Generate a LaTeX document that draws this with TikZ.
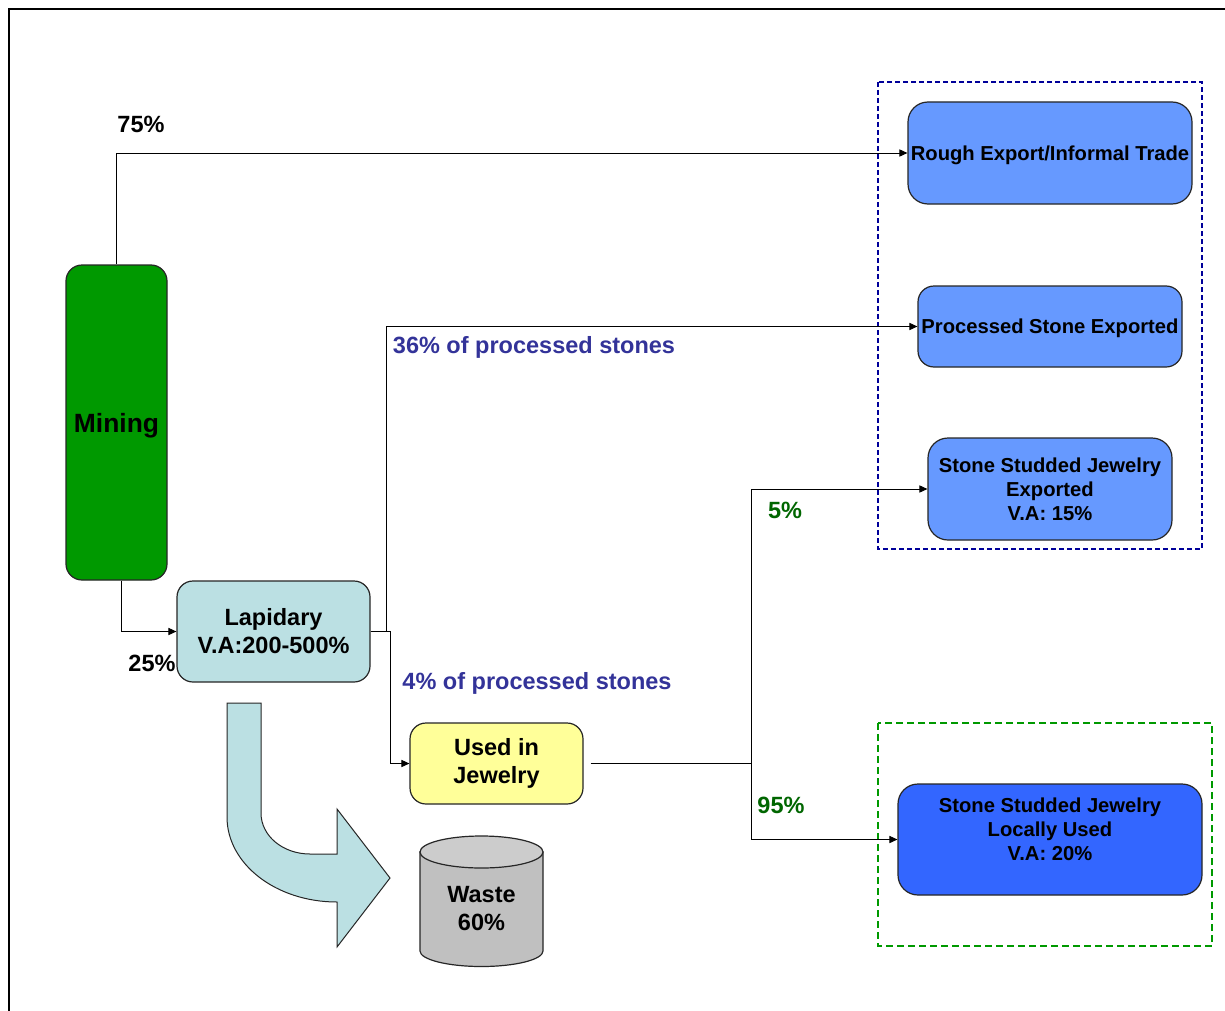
\documentclass[tikz,border=0pt]{standalone}
\usepackage{fontspec}
\setmainfont{Liberation Sans}
\usetikzlibrary{arrows.meta}
\definecolor{minegreen}{RGB}{0,153,0}
\definecolor{lapblue}{RGB}{187,224,227}
\definecolor{jewyellow}{RGB}{255,255,153}
\definecolor{lightblue}{RGB}{102,153,255}
\definecolor{darkblue}{RGB}{51,102,255}
\definecolor{wastegray}{RGB}{192,192,192}
\definecolor{wastetop}{RGB}{204,204,204}
\definecolor{labblue}{RGB}{51,51,153}
\definecolor{labgreen}{RGB}{0,102,0}
\definecolor{framenavy}{RGB}{0,0,153}
\definecolor{framegreen}{RGB}{0,153,0}
\tikzset{
  boxstyle/.style={draw=black!85, line width=0.6pt, rounded corners=8pt, inner sep=0pt, align=center, font=\fontsize{11.75}{14}\selectfont\bfseries},
  smalltext/.style={font=\fontsize{10.1}{12}\selectfont\bfseries},
  conn/.style={line width=0.5pt, draw=black},
  tip/.style={-{Triangle[length=4pt,width=3.6pt]}},
  pct/.style={inner sep=0pt, font=\fontsize{11.75}{14}\selectfont\bfseries},
}
\begin{document}
\begin{tikzpicture}[x=0.5pt,y=-0.5pt]
\useasboundingbox (0,0) rectangle (1225,1011);
\fill[white] (0,0) rectangle (1225,1011);
% outer frame
\draw[line width=1pt] (9,1011) -- (9,9) -- (1225,9);
% dashed frames
\draw[framenavy, line width=0.6pt, dash pattern=on 2.5pt off 1.5pt] (878,82) rectangle (1202,549);
\draw[framegreen, line width=0.6pt, dash pattern=on 3.5pt off 2pt] (878,723) rectangle (1212,946);
% nodes
\node[boxstyle, fill=minegreen, minimum width=50.5pt, minimum height=157.5pt, text depth=0pt, font=\fontsize{13.2}{15}\selectfont\bfseries] (mining) at (116.5,422.5) {Mining};
\node[boxstyle, fill=lapblue, minimum width=96.5pt, minimum height=50.5pt] (lapidary) at (273.5,631.5) {Lapidary\\V.A:200-500\%};
\node[boxstyle, fill=jewyellow, minimum width=86.5pt, minimum height=40.5pt] (used) at (496.5,763.5) {Used in\\ Jewelry};
\node[boxstyle, smalltext, fill=lightblue, minimum width=142pt, minimum height=51pt, rounded corners=10pt, text depth=0pt] (rough) at (1050,153) {Rough Export/Informal Trade};
\node[boxstyle, smalltext, fill=lightblue, minimum width=132pt, minimum height=40.5pt, text depth=0pt] (processed) at (1050,326.5) {Processed Stone Exported};
\node[boxstyle, smalltext, fill=lightblue, minimum width=122pt, minimum height=51pt, rounded corners=10pt] (exported) at (1050,489) {Stone Studded Jewelry\\Exported\\V.A: 15\%};
\node[boxstyle, fill=darkblue, minimum width=152pt, minimum height=55.5pt, rounded corners=10pt] (local) at (1050,839.5) {};
\node[smalltext, align=center, inner sep=0pt] (localtext) at (1050,829) {Stone Studded Jewelry\\Locally Used\\V.A: 20\%};
% curved arrow to waste
\draw[fill=lapblue, line width=0.5pt, draw=black!85] (227,703) -- (227,817)
  .. controls (227,864) and (276,902) .. (337,902) -- (337,947) -- (390,878) -- (337,809) -- (337,854) -- (310,854)
  .. controls (283,854) and (261,836) .. (261,813) -- (261,703) -- cycle;
% waste cylinder
\draw[fill=wastegray, line width=0.6pt, draw=black!85] (420,852) -- (420,951) arc[start angle=180, end angle=0, x radius=61.5, y radius=15.5] -- (543,852) -- cycle;
\draw[fill=wastetop, line width=0.6pt, draw=black!85] (481.5,852) ellipse[x radius=61.5, y radius=16];
\node[align=center, inner sep=0pt, font=\fontsize{11.75}{14}\selectfont\bfseries] (waste) at (481.5,909) {Waste\\60\%};
% connectors
\draw[conn, tip] (mining.north) |- (rough.west);
\draw[conn, tip] ([xshift=2.5pt]mining.south) |- (lapidary.west);
\draw[conn, tip] (lapidary.east) -- ++(8pt,0) |- (processed.west);
\draw[conn, tip] (lapidary.east) -- ++(10pt,0) |- (used.west);
\coordinate (junc) at (751,763.5);
\draw[conn] ([xshift=3.5pt]used.east) -- (junc);
\draw[conn, tip] (junc) |- (exported.west);
\draw[conn, tip] (junc) |- (local.west);
% labels
\node[pct] (l75) at (141,124) {75\%};
\node[pct] (l25) at (152,663) {25\%};
\node[pct, text=labblue] (l36) at (534,347) {36\% of processed stones};
\node[pct, text=labblue] (l4) at (537,683) {4\% of processed stones};
\node[pct, text=labgreen] (l5) at (785,510) {5\%};
\node[pct, text=labgreen] (l95) at (781,805) {95\%};
\end{tikzpicture}
\end{document}
